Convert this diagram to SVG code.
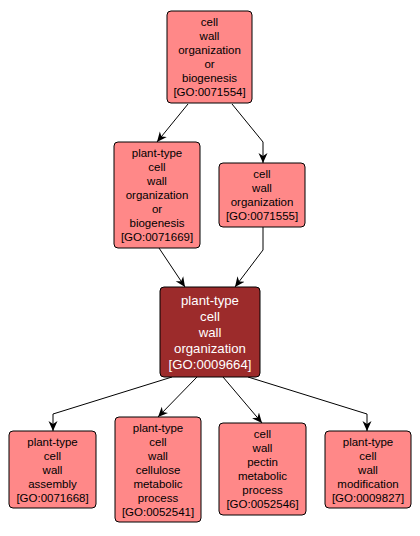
<svg xmlns="http://www.w3.org/2000/svg" width="420" height="536" viewBox="0 0 420 536">
<style>
.n rect{fill:#ff8888;stroke:#000;stroke-width:1}
.n text{font-family:"Liberation Sans",Arial,sans-serif;font-size:11.5px;fill:#000;text-anchor:middle}
.c rect{fill:#9c2b2b;stroke:#000;stroke-width:1}
.c text{font-family:"Liberation Sans",Arial,sans-serif;font-size:13.2px;fill:#fff;text-anchor:middle}
.e path{fill:none;stroke:#000;stroke-width:1;marker-end:url(#ah)}
</style>
<defs>
<marker id="ah" viewBox="0 0 10 10" refX="10" refY="5" markerWidth="10" markerHeight="10" markerUnits="userSpaceOnUse" orient="auto">
<path d="M0,0.5 L10,5 L0,9.5 L3,5 Z" fill="#000"/>
</marker>
</defs>
<rect width="420" height="536" fill="#fff"/>
<g id="edges" class="e">
<path d="M188,104 L157,142"/>
<path d="M232,104 L263,142 L263,163"/>
<path d="M159,248 L185,287"/>
<path d="M263,227 L263,250 L235,287"/>
<path d="M172,377 L53,414 L53,431"/>
<path d="M197,377 L158,417"/>
<path d="M223,377 L262,423"/>
<path d="M248,377 L367,414 L367,431"/>
</g>
<g id="GO0071554" class="n">
<rect x="167" y="11" width="85" height="92" rx="4"/>
<text x="209.5" y="26">cell</text><text x="209.5" y="40">wall</text><text x="209.5" y="54">organization</text><text x="209.5" y="68">or</text><text x="209.5" y="82">biogenesis</text><text x="209.5" y="96">[GO:0071554]</text>
</g>
<g id="GO0071669" class="n">
<rect x="114" y="142" width="86" height="106" rx="4"/>
<text x="157" y="157">plant-type</text><text x="157" y="171">cell</text><text x="157" y="185">wall</text><text x="157" y="199">organization</text><text x="157" y="213">or</text><text x="157" y="227">biogenesis</text><text x="157" y="241">[GO:0071669]</text>
</g>
<g id="GO0071555" class="n">
<rect x="219" y="163" width="86" height="64" rx="4"/>
<text x="262" y="178">cell</text><text x="262" y="192">wall</text><text x="262" y="206">organization</text><text x="262" y="220">[GO:0071555]</text>
</g>
<g id="GO0009664" class="c">
<rect x="160" y="287" width="100" height="90" rx="4"/>
<text x="210" y="304.5">plant-type</text><text x="210" y="320.5">cell</text><text x="210" y="336.5">wall</text><text x="210" y="352.5">organization</text><text x="210" y="368.5">[GO:0009664]</text>
</g>
<g id="GO0071668" class="n">
<rect x="9" y="431" width="87" height="77" rx="4"/>
<text x="52.5" y="445.5">plant-type</text><text x="52.5" y="459.5">cell</text><text x="52.5" y="473.5">wall</text><text x="52.5" y="487.5">assembly</text><text x="52.5" y="501.5">[GO:0071668]</text>
</g>
<g id="GO0052541" class="n">
<rect x="115" y="417" width="86" height="105" rx="4"/>
<text x="158" y="431.5">plant-type</text><text x="158" y="445.5">cell</text><text x="158" y="459.5">wall</text><text x="158" y="473.5">cellulose</text><text x="158" y="487.5">metabolic</text><text x="158" y="501.5">process</text><text x="158" y="515.5">[GO:0052541]</text>
</g>
<g id="GO0052546" class="n">
<rect x="219" y="423" width="87" height="92" rx="4"/>
<text x="262.5" y="438">cell</text><text x="262.5" y="452">wall</text><text x="262.5" y="466">pectin</text><text x="262.5" y="480">metabolic</text><text x="262.5" y="494">process</text><text x="262.5" y="508">[GO:0052546]</text>
</g>
<g id="GO0009827" class="n">
<rect x="325" y="431" width="86" height="77" rx="4"/>
<text x="368" y="445.5">plant-type</text><text x="368" y="459.5">cell</text><text x="368" y="473.5">wall</text><text x="368" y="487.5">modification</text><text x="368" y="501.5">[GO:0009827]</text>
</g>
</svg>
